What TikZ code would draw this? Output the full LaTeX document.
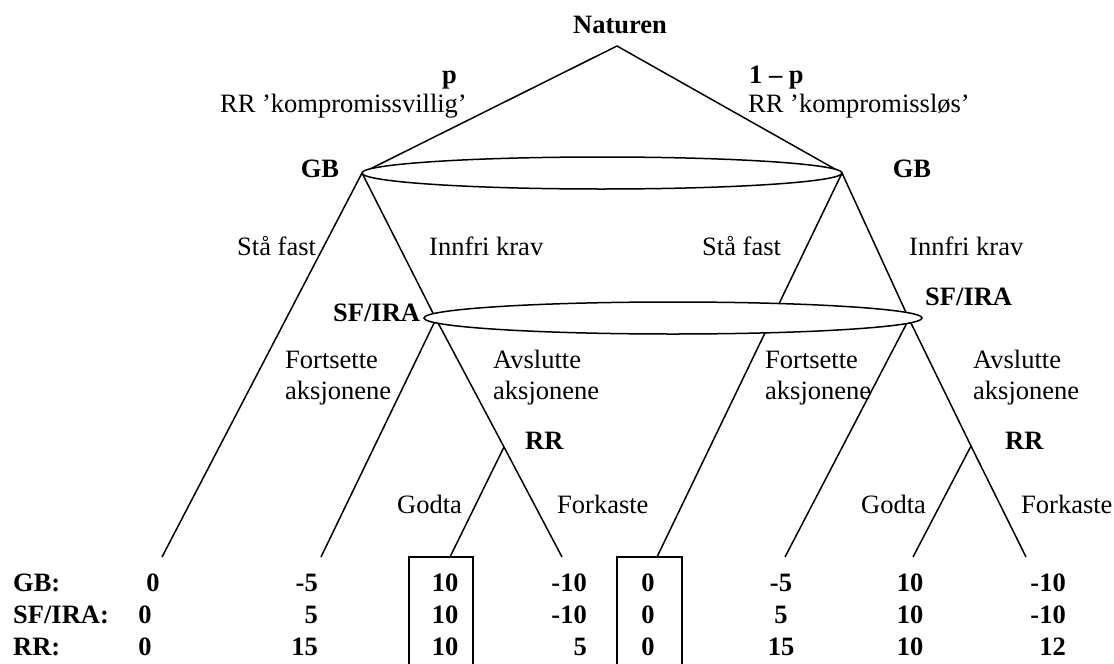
\documentclass[tikz,border=0pt]{standalone}
\usepackage{fontspec}
\setmainfont{Liberation Serif}
\begin{document}
\begin{tikzpicture}[x=1pt,y=-1pt,
  every node/.style={inner sep=0pt, font=\fontsize{26.5}{31}\selectfont},
  lbl/.style={anchor=base},
  lblw/.style={anchor=base west},
  bl/.style={anchor=base, font=\fontsize{26.5}{31}\selectfont\bfseries},
  blw/.style={bl, anchor=base west},
  ble/.style={bl, anchor=base east},
  branch/.style={line width=1.5pt},
  infoset/.style={line width=1.5pt, fill=white},
  payoffbox/.style={line width=1.3pt}]
\useasboundingbox (0,0) rectangle (1114,664);

% tree junctions
\coordinate (nat) at (617,46);
\coordinate (gbL) at (362,173);
\coordinate (gbR) at (842,173);
\coordinate (sfL) at (436,319);
\coordinate (sfR) at (909,319);
\coordinate (rrL) at (504,447);
\coordinate (rrR) at (971,446);
\coordinate (l1) at (162,557);
\coordinate (l2) at (321,557);
\coordinate (l3) at (450,557);
\coordinate (l4) at (562,557);
\coordinate (l5) at (657,557);
\coordinate (l6) at (785,557);
\coordinate (l7) at (913,557);
\coordinate (l8) at (1026,557);

% branches
\draw[branch] (gbL) -- (nat) -- (gbR);
\draw[branch] (gbL) -- (l1);
\draw[branch] (gbL) -- (sfL);
\draw[branch] (gbR) -- (l5);
\draw[branch] (gbR) -- (sfR);
\draw[branch] (sfL) -- (l2);
\draw[branch] (sfL) -- (rrL) -- (l4);
\draw[branch] (rrL) -- (l3);
\draw[branch] (sfR) -- (l6);
\draw[branch] (sfR) -- (rrR) -- (l8);
\draw[branch] (rrR) -- (l7);

% information sets
\draw[infoset] (602,173) ellipse [x radius=240, y radius=16];
\draw[infoset] (673,318) ellipse [x radius=249, y radius=16];

% labels
\node[bl] (natlbl) at (620,33) {Naturen};
\node[ble] (pL) at (457,83) {p};
\node[lbl, anchor=base east] (kvL) at (467,112) {RR ’kompromissvillig’};
\node[blw] (pR) at (749,83) {1 – p};
\node[lblw] (kvR) at (748,112) {RR ’kompromissløs’};
\node[bl] (gbLl) at (320,177) {GB};
\node[bl] (gbRl) at (912,177) {GB};
\node[lblw] (sfastL) at (237,255) {Stå fast};
\node[lblw] (innL) at (429,255) {Innfri krav};
\node[lblw] (sfastR) at (702,255) {Stå fast};
\node[lblw] (innR) at (909,255) {Innfri krav};
\node[blw] (sfLl) at (333,321) {SF/IRA};
\node[blw] (sfRl) at (925,305) {SF/IRA};
\node[lblw] (fortL1) at (285,368) {Fortsette};
\node[lblw] (fortL2) at (285,399) {aksjonene};
\node[lblw] (avsL1) at (493,368) {Avslutte};
\node[lblw] (avsL2) at (493,399) {aksjonene};
\node[lblw] (fortR1) at (765,368) {Fortsette};
\node[lblw] (fortR2) at (765,399) {aksjonene};
\node[lblw] (avsR1) at (973,368) {Avslutte};
\node[lblw] (avsR2) at (973,399) {aksjonene};
\node[blw] (rrLl) at (525,449) {RR};
\node[blw] (rrRl) at (1005,449) {RR};
\node[lblw] (godL) at (397,513) {Godta};
\node[lblw] (forL) at (557,513) {Forkaste};
\node[lblw] (godR) at (861,513) {Godta};
\node[lblw] (forR) at (1021,513) {Forkaste};

% payoff boxes (open at the bottom edge)
\draw[payoffbox] (409,668) |- (473,557) -- (473,668);
\draw[payoffbox] (617,668) |- (682,557) -- (682,668);

% payoffs
\node[blw] (rowGB) at (13,591) {GB:};
\node[blw] (rowSF) at (13,623) {SF/IRA:};
\node[blw] (rowRR) at (13,655) {RR:};
\node[bl] at (153,591) {0};
\node[bl] at (145,623) {0};
\node[bl] at (145,655) {0};
\node[ble] at (318,591) {-5};
\node[ble] at (318,623) {5};
\node[ble] at (318,655) {15};
\node[bl] at (445,591) {10};
\node[bl] at (445,623) {10};
\node[bl] at (445,655) {10};
\node[ble] at (587,591) {-10};
\node[ble] at (587,623) {-10};
\node[ble] at (587,655) {5};
\node[bl] at (648,591) {0};
\node[bl] at (648,623) {0};
\node[bl] at (648,655) {0};
\node[bl] at (781,591) {-5};
\node[bl] at (781,623) {5};
\node[bl] at (781,655) {15};
\node[bl] at (910,591) {10};
\node[bl] at (910,623) {10};
\node[bl] at (910,655) {10};
\node[ble] at (1066,591) {-10};
\node[ble] at (1066,623) {-10};
\node[ble] at (1066,655) {12};
\end{tikzpicture}
\end{document}
